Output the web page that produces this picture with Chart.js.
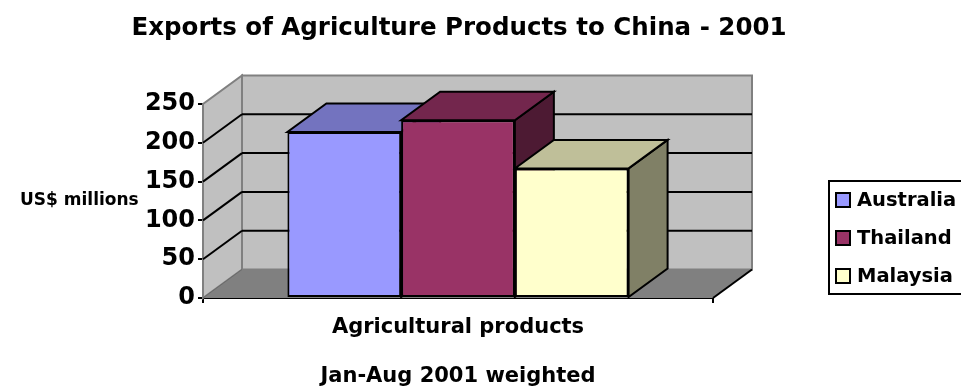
<!DOCTYPE html>
<html>
<head>
<meta charset="utf-8">
<title>Exports of Agriculture Products to China - 2001</title>
<script src="https://cdn.jsdelivr.net/npm/chart.js@4.4.1/dist/chart.umd.min.js"></script>
<style>
  html, body { margin: 0; padding: 0; background: #fff; }
  #wrap { width: 961px; height: 387px; }
</style>
</head>
<body>
<div id="wrap"><canvas id="myChart" width="961" height="387"></canvas></div>
<script>
let chartTitle = 'Exports of Agriculture Products to China - 2001';
let categories = ['Agricultural products'];
let countries = ['Australia', 'Thailand', 'Malaysia'];
let australia = [214];
let thailand = [229];
let malaysia = [167];
let yTicks = [0, 50, 100, 150, 200, 250];

let frontColors = ['#9999FF', '#993366', '#FFFFCC'];
let topColors = ['#7373BF', '#73264D', '#BFBF99'];
let sideColors = ['#4D4D80', '#4D1A33', '#808066'];

// depth offset of the 3d box
let DX = 39;
let DY = -28.5;

Chart.defaults.font.family = "'DejaVu Sans', sans-serif";
Chart.defaults.font.weight = 'bold';
Chart.defaults.color = '#000';

function poly(ctx, pts, fill, stroke, lw) {
    ctx.beginPath();
    ctx.moveTo(pts[0][0], pts[0][1]);
    for (let i = 1; i < pts.length; i++) ctx.lineTo(pts[i][0], pts[i][1]);
    ctx.closePath();
    if (fill) { ctx.fillStyle = fill; ctx.fill(); }
    if (stroke) { ctx.strokeStyle = stroke; ctx.lineWidth = lw || 1; ctx.stroke(); }
}

function line(ctx, x1, y1, x2, y2, color, lw) {
    ctx.beginPath();
    ctx.moveTo(x1, y1);
    ctx.lineTo(x2, y2);
    ctx.strokeStyle = color;
    ctx.lineWidth = lw;
    ctx.stroke();
}

let box3d = {
    id: 'box3d',
    beforeDatasetsDraw: function (chart) {
        let ctx = chart.ctx;
        let a = chart.chartArea;
        let ys = chart.scales.y;
        let L = a.left, R = a.right, T = ys.getPixelForValue(yTicks[yTicks.length - 1]), B = ys.getPixelForValue(0);
        ctx.save();
        ctx.lineJoin = 'miter';

        // walls and floor
        poly(ctx, [[L, B], [L + DX, B + DY], [L + DX, T + DY], [L, T]], '#C0C0C0', '#808080', 2);
        poly(ctx, [[L + DX, T + DY], [R + DX, T + DY], [R + DX, B + DY], [L + DX, B + DY]], '#C0C0C0', '#808080', 2);
        poly(ctx, [[L, B], [R, B], [R + DX, B + DY], [L + DX, B + DY]], '#808080', null);
        line(ctx, L, B, L + DX, B + DY, '#6a6a6a', 1);
        line(ctx, R, B, R + DX, B + DY, '#000', 2);

        // gridlines on the walls
        for (let i = 1; i < yTicks.length - 1; i++) {
            let y = ys.getPixelForValue(yTicks[i]);
            line(ctx, L, y, L + DX, y + DY, '#000', 2);
            line(ctx, L + DX, y + DY, R + DX, y + DY, '#000', 2);
        }

        // tops and sides of the columns, left to right
        for (let d = 0; d < chart.data.datasets.length; d++) {
            let meta = chart.getDatasetMeta(d);
            meta.data.forEach(function (bar) {
                let p = bar.getProps(['x', 'y', 'base', 'width'], true);
                let x1 = p.x - p.width / 2, x2 = p.x + p.width / 2;
                let yt = p.y, yb = p.base;
                poly(ctx, [[x2, yt], [x2 + DX, yt + DY], [x2 + DX, yb + DY], [x2, yb]], sideColors[d], '#000', 2);
                poly(ctx, [[x1, yt], [x2, yt], [x2 + DX, yt + DY], [x1 + DX, yt + DY]], topColors[d], '#000', 2);
            });
        }
        ctx.restore();
    },
    afterDraw: function (chart) {
        let ctx = chart.ctx;
        ctx.save();
        ctx.fillStyle = '#000';

        // title, wider than the plot so drawn here
        ctx.font = "bold 24.5px 'DejaVu Sans'";
        ctx.textAlign = 'center';
        ctx.textBaseline = 'middle';
        ctx.fillText(chartTitle, 459, 29);

        // vertical axis caption
        ctx.font = "bold 17px 'DejaVu Sans'";
        ctx.textAlign = 'left';
        ctx.fillText('US$ millions', 20, 201);

        // legend
        ctx.lineWidth = 2;
        ctx.strokeStyle = '#000';
        ctx.strokeRect(829, 181, 140, 113);
        ctx.font = "bold 19.5px 'DejaVu Sans'";
        chart.data.datasets.forEach(function (ds, i) {
            let cy = 200 + i * 38;
            ctx.fillStyle = ds.backgroundColor;
            ctx.fillRect(836, cy - 7, 14, 14);
            ctx.lineWidth = 2;
            ctx.strokeRect(836, cy - 7, 14, 14);
            ctx.fillStyle = '#000';
            ctx.fillText(ds.label, 857, cy + 1);
        });
        ctx.restore();
    }
};

let ctx = document.getElementById('myChart').getContext('2d');
let myChart = new Chart(ctx, {
    type: 'bar',
    data: {
        labels: categories,
        datasets: [australia, thailand, malaysia].map(function (vals, i) {
            return {
                label: countries[i],
                data: vals,
                backgroundColor: frontColors[i],
                borderColor: '#000',
                borderWidth: 2,
                borderSkipped: false,
                categoryPercentage: 0.669,
                barPercentage: 1
            };
        })
    },
    options: {
        responsive: false,
        animation: false,
        devicePixelRatio: 1,
        layout: { padding: { left: 0, right: 248, top: 104, bottom: 0 } },
        plugins: {
            legend: { display: false },
            tooltip: { enabled: false },
            title: { display: false }
        },
        scales: {
            x: {
                z: 1,
                offset: true,
                grid: { display: true, drawOnChartArea: false, drawTicks: true, tickLength: 5, color: '#000', lineWidth: 2 },
                border: { display: true, color: '#000', width: 2 },
                ticks: { font: { size: 21, weight: 'bold' }, color: '#000', padding: 12, maxRotation: 0 },
                title: { display: true, text: 'Jan-Aug 2001 weighted', color: '#000', font: { size: 21, weight: 'bold' }, padding: { top: 0, bottom: -2 } },
                afterFit: function (s) { s.height = 89; }
            },
            y: {
                z: 1,
                min: 0,
                max: 250,
                afterBuildTicks: function (s) { s.ticks = yTicks.map(function (v) { return { value: v }; }); },
                grid: { display: true, drawOnChartArea: false, drawTicks: true, tickLength: 5, color: '#000', lineWidth: 2 },
                border: { display: true, color: '#000', width: 2 },
                ticks: { font: { size: 24, weight: 'bold' }, color: '#000', padding: 3 },
                afterFit: function (s) { s.width = 203; }
            }
        }
    },
    plugins: [box3d]
});
</script>
</body>
</html>
